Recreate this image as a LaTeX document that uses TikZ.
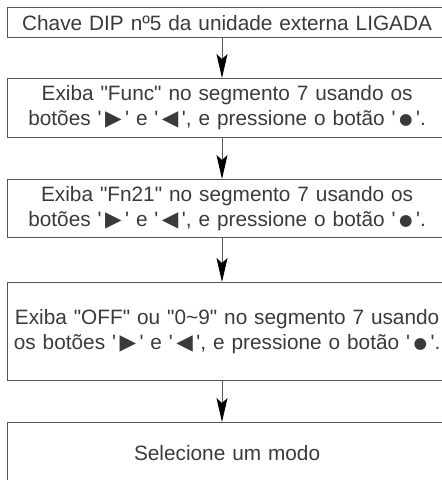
\documentclass[tikz,border=0pt]{standalone}
\usepackage{fontspec}
\setmainfont{Liberation Sans}
\newfontfamily\symfont{DejaVu Sans}
\usetikzlibrary{arrows.meta}
\definecolor{ink}{HTML}{3A3A3A}
\definecolor{frame}{HTML}{555555}
\newcommand{\btn}[2]{\textquotesingle\,{\symfont\fontsize{#1}{#1}\selectfont #2}\,\textquotesingle}
\newcommand{\rowbtns}{botões \btn{21.5}{▶} e \btn{21.5}{◀}, e pressione o botão
  \textquotesingle\,\raisebox{1.2pt}{\symfont\fontsize{15.5}{15.5}\selectfont ●}\,\textquotesingle.}

\begin{document}
\begin{tikzpicture}[x=1pt,y=-1pt,font=\fontsize{20.8}{25}\selectfont,
  stepbox/.style={draw=frame,line width=1.2pt,text=ink,align=center,anchor=north west,
                  minimum width=440pt,text width=440pt,inner sep=0pt},
  arrw/.style={-{Stealth[length=24pt,width=11pt,inset=5pt,black]},draw=frame,line width=0.9pt}]
\useasboundingbox (0,0) rectangle (442,480);
\clip (0,0) rectangle (442,480);

\node[stepbox,minimum height=30pt] (dip) at (6.5,7) {Chave DIP nº5 da unidade externa LIGADA};
\node[stepbox,minimum height=59pt] (func) at (6.5,78)
  {Exiba \textquotedbl Func\textquotedbl\ no segmento 7 usando os\\ \rowbtns};
\node[stepbox,minimum height=58pt] (fn) at (6.5,179)
  {Exiba \textquotedbl Fn21\textquotedbl\ no segmento 7 usando os\\ \rowbtns};
\node[stepbox,minimum height=98pt] (off) at (6.5,282)
  {Exiba \textquotedbl OFF\textquotedbl\ ou \textquotedbl 0\textasciitilde 9\textquotedbl\ no segmento 7 usando\\ os \rowbtns};
\node[stepbox,minimum height=60pt] (mode) at (6.5,422) {Selecione um modo};

% arrows run a little left of the box centres
\coordinate (axis) at (222,0);
\draw[arrw] (dip.south -| axis)--(func.north -| axis);
\draw[arrw] (func.south -| axis)--(fn.north -| axis);
\draw[arrw] (fn.south -| axis)--(off.north -| axis);
\draw[arrw] (off.south -| axis)--(mode.north -| axis);
\end{tikzpicture}
\end{document}
